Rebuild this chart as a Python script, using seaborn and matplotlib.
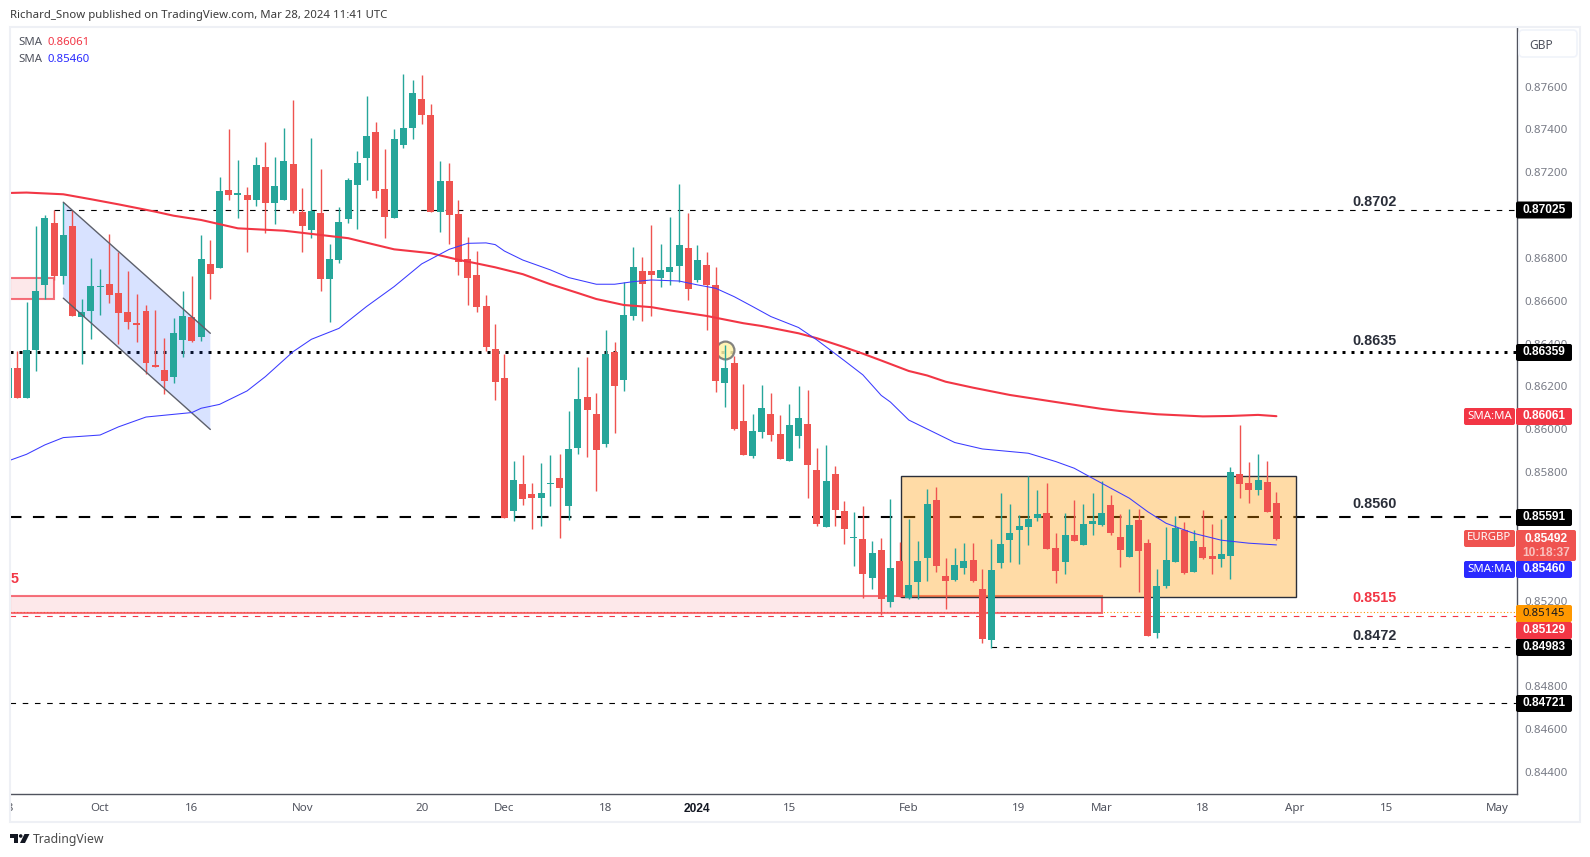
import numpy as np
import pandas as pd
import matplotlib
matplotlib.use('Agg')
import matplotlib.pyplot as plt
from matplotlib.patches import Rectangle, Polygon, Circle, FancyBboxPatch
from matplotlib.ticker import FormatStrFormatter
from matplotlib.transforms import Bbox
import seaborn as sns

# EURGBP daily candles, in 1e-5 price points
opens = [86145,86285,86146,86370,86674,86963,86716,86949,86524,86552,
         86664,86678,86636,86548,86496,86552,86300,86277,86244,86417,
         86524,86431,86772,86753,87117,87094,87094,87071,87225,87057,
         87071,87239,87015,86931,87010,86702,86790,86982,87141,87267,
         87388,87122,86987,87327,87407,87542,87467,87015,87159,87005,
         86795,86720,86576,86375,86240,85619,85745,85698,85679,85745,
         85773,85642,85913,86151,86071,85931,86361,86230,86529,86739,
         86739,86706,86734,86762,86847,86697,86767,86674,86216,86310,
         86039,85875,85987,86071,85978,85852,85969,86025,85810,85544,
         85791,85619,85492,85488,85306,85436,85194,85385,85212,85287,
         85399,85670,85315,85296,85352,85390,85254,85016,85376,85483,
         85530,85544,85586,85609,85446,85380,85506,85460,85558,85553,
         85646,85497,85404,85576,85469,85049,85268,85380,85530,85334,
         85450,85408,85394,85408,85791,85749,85717,85754,85656]
highs = [86285,86366,86594,86949,87001,87024,87060,87024,86608,86800,
         86748,86912,86828,86739,86632,86580,86557,86426,86520,86646,
         86716,86907,86884,87178,87402,87257,87131,87271,87341,87271,
         87407,87538,87127,87360,87215,86865,87038,87173,87299,87556,
         87435,87309,87402,87659,87631,87654,87519,87253,87243,87071,
         86898,86832,86627,86492,86352,85852,85880,85749,85843,85880,
         85885,86085,86291,86338,86170,86464,86408,86688,86851,86805,
         86954,86865,86991,87145,87010,86861,86828,86758,86394,86342,
         86212,86071,86207,86170,86067,86118,86202,86184,85913,85927,
         85829,85665,85614,85642,85478,85492,85675,85474,85581,85478,
         85721,85731,85399,85446,85469,85469,85348,85488,85703,85651,
         85600,85782,85717,85749,85516,85609,85670,85651,85703,85759,
         85693,85604,85628,85628,85488,85348,85544,85595,85567,85530,
         85623,85558,85581,85824,86020,85847,85885,85852,85707]
lows = [86082,86146,86146,86274,86607,86697,86678,86529,86305,86422,
        86534,86590,86398,86468,86408,86258,86291,86165,86216,86338,
        86408,86412,86608,86753,87071,86987,86828,87043,86917,86959,
        87071,87010,86828,86893,86646,86501,86776,86963,86935,87164,
        87080,86893,86987,87313,87355,87425,87015,86921,86865,86720,
        86580,86548,86366,86137,85587,85572,85647,85535,85549,85642,
        85492,85578,85885,85871,85712,85917,85983,86179,86510,86506,
        86529,86664,86674,86688,86604,86688,86464,86174,86104,85997,
        85880,85866,85959,85945,85861,85852,85913,85679,85549,85544,
        85548,85464,85362,85212,85254,85133,85170,85217,85208,85208,
        85292,85334,85161,85292,85324,85287,85002,84979,85352,85380,
        85371,85460,85572,85441,85282,85324,85478,85460,85506,85548,
        85506,85357,85404,85240,85035,85025,85259,85380,85324,85334,
        85394,85324,85357,85301,85679,85656,85693,85614,85483]
closes = [86285,86146,86370,86646,86987,86716,86907,86529,86548,86669,
          86669,86627,86543,86501,86487,86310,86291,86225,86450,86529,
          86412,86795,86725,87113,87094,87103,87071,87234,87057,87136,
          87253,87019,86949,87019,86702,86795,86968,87164,87243,87369,
          87113,86991,87355,87407,87570,87467,87015,87159,87001,86781,
          86706,86571,86384,86221,85587,85763,85675,85679,85703,85749,
          85726,85908,86141,86090,85903,86352,86202,86534,86758,86678,
          86720,86744,86758,86861,86655,86790,86674,86225,86286,86001,
          85880,85992,86099,85973,85861,86020,86053,85833,85558,85759,
          85623,85534,85497,85324,85422,85208,85352,85217,85273,85385,
          85651,85362,85292,85366,85385,85292,85021,85343,85464,85516,
          85548,85581,85604,85441,85338,85506,85478,85558,85572,85609,
          85516,85436,85553,85432,85035,85268,85390,85539,85329,85478,
          85399,85394,85418,85801,85745,85717,85763,85614,85488]

# moving averages at these bars
sma200_bars = [0,2,6,9,12,16,18,21,25,30,34,37,39,42,46,49,51,53,56,59,62,64,67,70,72,76,80,82,
               86,88,91,93,95,98,100,102,105,109,114,119,121,125,130,133,136,138]
sma200_vals = [87103,87105,87097,87074,87050,87016,86997,86977,86938,86927,86907,86892,86871,86840,
               86822,86791,86774,86756,86724,86677,86636,86608,86580,86570,86555,86529,86495,86482,
               86448,86425,86383,86353,86321,86272,86251,86222,86194,86160,86127,86095,86085,86070,
               86060,86062,86067,86061]
sma50_bars = [0,2,4,6,10,12,15,20,21,23,26,28,31,33,36,39,42,45,48,50,52,53,54,56,59,61,64,66,68,70,
              73,75,77,79,81,83,86,88,91,93,95,96,98,100,103,106,111,114,116,118,122,124,126,129,
              132,135,138]
sma50_vals = [85852,85883,85927,85961,85973,86011,86057,86078,86098,86116,86179,86246,86362,86420,
              86471,86573,86666,86772,86840,86868,86870,86862,86832,86790,86744,86708,86677,86677,
              86689,86697,86692,86674,86658,86619,86573,86526,86475,86417,86320,86254,86158,86127,
              86043,86001,85938,85908,85888,85849,85818,85771,85678,85615,85561,85514,85482,85468,
              85460]

price_ticks = [0.876,0.874,0.872,0.868,0.866,0.864,0.862,0.860,0.858,0.852,0.848,0.846,0.844]
date_bars = [0,10,20,32,45,54,65,75,85,98,110,119,130,140,150,162]
date_labels = ['18','Oct','16','Nov','20','Dec','18','2024','15','Feb','19','Mar','18','Apr','15','May']

df = pd.DataFrame({'open': opens, 'high': highs, 'low': lows, 'close': closes}) / 1e5
df['bar'] = np.arange(len(df))
ma200 = pd.DataFrame({'bar': sma200_bars, 'price': np.array(sma200_vals) / 1e5})
ma50 = pd.DataFrame({'bar': sma50_bars, 'price': np.array(sma50_vals) / 1e5})

GREEN = '#26a69a'
RED = '#ef5350'
TV_RED = '#f23645'
TV_BLUE = '#2a2aff'
W, H = 1590, 857

sns.set_theme(style='white')
plt.rcParams['font.family'] = ['Noto Sans', 'DejaVu Sans']
HEAVY = 'Liberation Sans'  # has a real bold, the Noto here renders regular

fig = plt.figure(figsize=(W / 100, H / 100), dpi=100, facecolor='white')
ax = fig.add_axes([10 / W, 1 - 794 / H, 1507 / W, 767 / H])
ax.set_xlim(0.2024, 164.18)
ax.set_ylim(0.84297, 0.87878)

# horizontal levels sit under the orange box
xl, xr = ax.get_xlim()
thin = (0, (5, 6))
ax.hlines(0.87025, 5, xr, color='black', lw=0.8, linestyle=thin, zorder=1)
ax.hlines(0.86359, xl, xr, color='black', lw=2.16, linestyle=(0, (1, 2)), zorder=1)
ax.hlines(0.85591, xl, xr, color='black', lw=1.5, linestyle=(0, (5.5, 5.5)), zorder=1)
ax.hlines(0.85145, xl, xr, color='#ff9800', lw=0.8, linestyle=(0, (1, 2)), zorder=1)
ax.hlines(0.85129, xl, xr, color=TV_RED, lw=0.8, linestyle=thin, zorder=1)
ax.hlines(0.84983, 107, xr, color='black', lw=0.8, linestyle=thin, zorder=1)
ax.hlines(0.84721, xl, xr, color='black', lw=0.8, linestyle=thin, zorder=1)

# pink zones
for x0, x1, p0, p1 in [(xl, 5, 0.86608, 0.86706), (xl, 119.05, 0.85144, 0.85223)]:
    ax.add_patch(Rectangle((x0, p0), x1 - x0, p1 - p0, fc=(0.949, 0.212, 0.271, 0.11),
                           ec=(0.949, 0.212, 0.271, 0.7), lw=1.5, zorder=1.5))

# orange range box
ax.add_patch(Rectangle((97.1, 0.85215), 43.0, 0.85780 - 0.85215, fc=(1, 0.596, 0, 0.35),
                       ec='#2a2e39', lw=1.0, zorder=2))

# blue falling channel
ax.add_patch(Polygon([(6, 0.87060), (22, 0.86448), (22, 0.85999), (6, 0.86612)], closed=True,
                     fc=(0.161, 0.384, 1, 0.18), ec='none', zorder=2))
ax.plot([6, 22], [0.87060, 0.86448], color='#5d606b', lw=1.0, zorder=4)
ax.plot([6, 22], [0.86612, 0.85999], color='#5d606b', lw=1.0, zorder=4)

# highlight circle at the start of January
sns.scatterplot(x=[78], y=[0.86370], s=165, color='#fff3a8', edgecolor='#6f6f6f', linewidth=1.6,
                alpha=0.85, zorder=2.5, ax=ax, legend=False)

# candles
colors = np.where(df['close'] >= df['open'], GREEN, RED)
ax.vlines(df['bar'], df['low'], df['high'], colors=colors, lw=1.0, zorder=3)
ax.bar(df['bar'], (df['close'] - df['open']).abs().clip(lower=0.00004),
       bottom=df[['open', 'close']].min(axis=1), width=0.76, color=colors, linewidth=0, zorder=3.1)

sns.lineplot(data=ma200, x='bar', y='price', color=TV_RED, linewidth=1.5, errorbar=None, ax=ax, zorder=4)
sns.lineplot(data=ma50, x='bar', y='price', color='#3a3aff', linewidth=0.75, errorbar=None, ax=ax, zorder=4)

# level captions
for price, txt, col in [(0.87062, '0.8702', '#2a2e39'), (0.86412, '0.8635', '#2a2e39'),
                        (0.85650, '0.8560', '#2a2e39'), (0.85210, '0.8515', TV_RED),
                        (0.85036, '0.8472', '#2a2e39')]:
    ax.text(148.7, price, txt, color=col, family=HEAVY, fontsize=10.4, fontweight='bold',
            ha='center', va='center', zorder=5)
ax.text(0.75, 0.85300, '5', color=TV_RED, family=HEAVY, fontsize=10.4, fontweight='bold',
        ha='center', va='center', zorder=5)

ax.set_xlabel('')
ax.set_ylabel('')
ax.set_xticks([])
ax.yaxis.tick_right()
ax.set_yticks(price_ticks)
ax.yaxis.set_major_formatter(FormatStrFormatter('%.5f'))
ax.tick_params(axis='y', length=0, pad=5, labelsize=8.3, labelcolor='#787b86')
for side in ['left', 'top']:
    ax.spines[side].set_visible(False)
for side in ['right', 'bottom']:
    ax.spines[side].set_color('#50535e')
    ax.spines[side].set_linewidth(1.0)

# date labels, the first one gets cut by the left frame
for b, lab in zip(date_bars, date_labels):
    bold = lab == '2024'
    t = ax.text(b, -0.0195, lab, transform=ax.get_xaxis_transform(), ha='center', va='center',
                fontsize=8.6 if bold else 8.3, color='#131722' if bold else '#50535e',
                family=HEAVY if bold else 'Noto Sans', fontweight='bold' if bold else 'normal',
                clip_on=True)
    t.set_clip_box(Bbox([[11, 0], [W, H]]))

# pixel overlay for the TradingView chrome and price tags
ov = fig.add_axes([0, 0, 1, 1], zorder=10)
ov.set_xlim(0, W)
ov.set_ylim(H, 0)
ov.axis('off')
ov.patch.set_alpha(0)
ov.add_patch(Rectangle((10, 27), 1570, 795, fc='none', ec='#eef0f5', lw=1.5))


def tag(x0, x1, y0, y1, text, face, tc='white', heavy=True):
    ov.add_patch(FancyBboxPatch((x0 + 2, y0 + 2), x1 - x0 - 4, y1 - y0 - 4,
                                boxstyle='round,pad=2,rounding_size=2', fc=face, ec='none'))
    ov.text((x0 + x1) / 2, (y0 + y1) / 2 - 0.5, text, color=tc, ha='center', va='center',
            family=HEAVY if heavy else 'Noto Sans', fontsize=8.6 if heavy else 8.2,
            fontweight='bold' if heavy else 'normal')


tag(1516, 1572, 201.5, 218.5, '0.87025', 'black')
tag(1516, 1572, 344, 361, '0.86359', 'black')
tag(1464, 1515, 408, 425, 'SMA:MA', TV_RED, heavy=False)
tag(1516, 1572, 408, 425, '0.86061', TV_RED)
tag(1516, 1572, 509, 526, '0.85591', 'black')
tag(1464, 1515, 530, 547, 'EURGBP', RED, heavy=False)
tag(1516, 1576, 530, 561, '', RED)
ov.text(1546, 538.5, '0.85492', color='white', family=HEAVY, fontsize=8.6, fontweight='bold',
        ha='center', va='center')
ov.text(1546, 552.5, '10:18:37', color='#f9c0bd', family=HEAVY, fontsize=8.6, fontweight='bold',
        ha='center', va='center')
tag(1464, 1515, 561, 578, 'SMA:MA', TV_BLUE, heavy=False)
tag(1516, 1572, 561, 578, '0.85460', TV_BLUE)
tag(1516, 1572, 605, 622, '0.85145', '#ff9800', tc='#131722', heavy=False)
tag(1516, 1572, 622, 639, '0.85129', TV_RED)
tag(1516, 1572, 639, 656, '0.84983', 'black')
tag(1516, 1572, 695, 712, '0.84721', 'black')

# currency button
ov.add_patch(FancyBboxPatch((1522, 33), 52, 21, boxstyle='round,pad=3,rounding_size=4',
                            fc='white', ec='#f0f3fa', lw=1.2))
ov.text(1541, 45, 'GBP', color='#50535e', fontsize=8.6, ha='center', va='center')

# header and legend
ov.text(10, 15, 'Richard_Snow published on TradingView.com, Mar 28, 2024 11:41 UTC', color='#3a3a3a',
        fontsize=8.2, ha='left', va='center')
ov.text(18, 42, 'SMA', color='#50535e', fontsize=8.2, ha='left', va='center')
ov.text(47, 42, '0.86061', color=TV_RED, fontsize=8.2, ha='left', va='center')
ov.text(18, 59, 'SMA', color='#50535e', fontsize=8.2, ha='left', va='center')
ov.text(47, 59, '0.85460', color=TV_BLUE, fontsize=8.2, ha='left', va='center')

# footer logo
logo = '#131722'
ov.add_patch(Polygon([(10, 834), (18, 834), (18, 843), (14, 843), (14, 837.5), (10, 837.5)], fc=logo, ec='none'))
ov.add_patch(Circle((20.7, 836), 1.8, fc=logo, ec='none'))
ov.add_patch(Polygon([(24.5, 834), (29.5, 834), (25, 843), (20, 843)], fc=logo, ec='none'))
ov.text(33, 839.5, 'TradingView', color='#4a4a4a', fontsize=8.8, ha='left', va='center')

plt.savefig('out.png', dpi=100)
plt.close()
